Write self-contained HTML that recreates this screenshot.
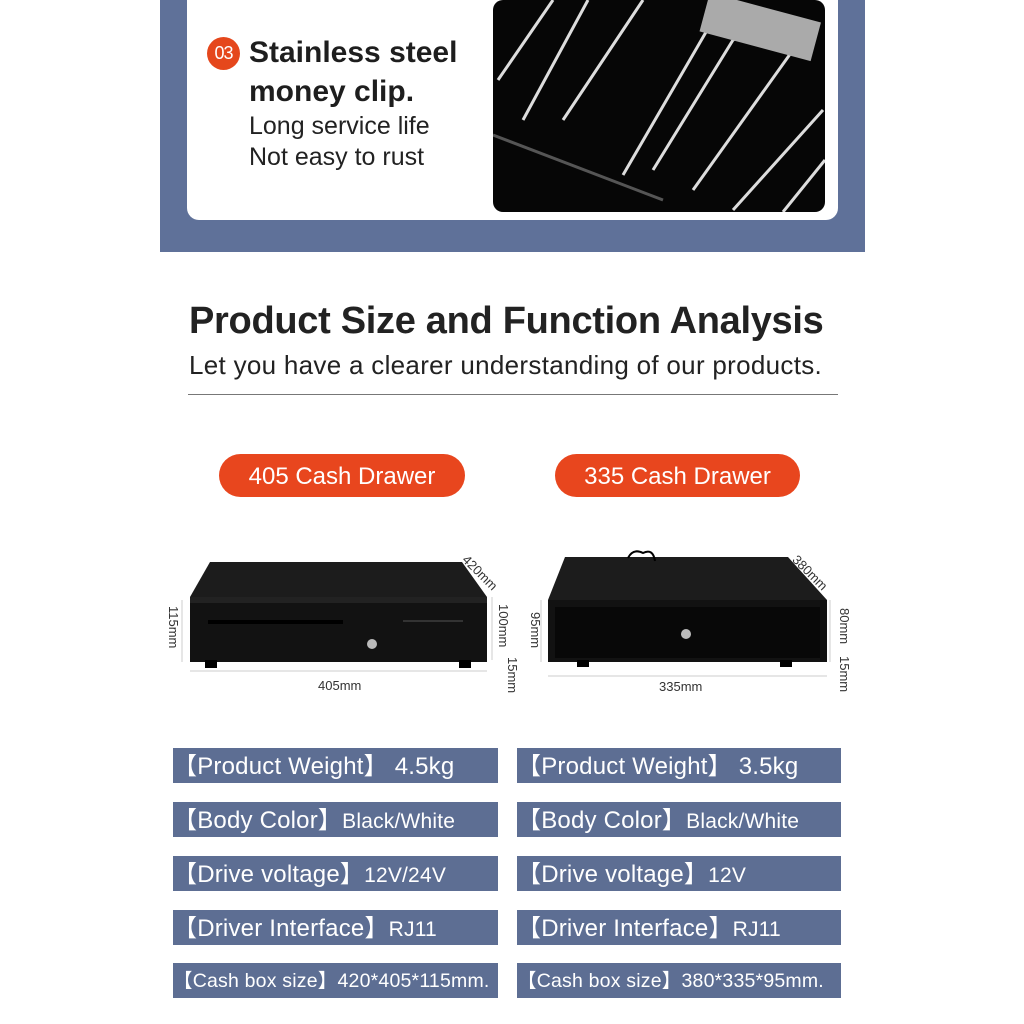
<!DOCTYPE html>
<html><head><meta charset="utf-8"><style>
*{margin:0;padding:0;box-sizing:border-box}
body{width:1024px;height:1024px;background:#fff;position:relative;overflow:hidden;font-family:"Liberation Sans",sans-serif;color:#222}
.a{position:absolute}
.lab{position:absolute;height:35px;background:#5d6e93;color:#fff;font-size:24px;line-height:37px;white-space:nowrap;overflow:hidden;letter-spacing:0.2px}
.lab small{font-size:21px}
.pill{position:absolute;height:43px;background:#e8461e;border-radius:22px;color:#fff;font-size:24px;line-height:45px;text-align:center}
.dim{position:absolute;font-size:12px;color:#333;white-space:nowrap}
</style></head><body>
<div class="a" style="left:160px;top:0;width:705px;height:252px;background:#5f7199"></div>
<div class="a" style="left:187px;top:0;width:651px;height:220px;background:#fff;border-radius:0 0 12px 12px"></div>
<div class="a" style="left:207px;top:37px;width:33px;height:33px;border-radius:50%;background:#e5471c;color:#fff;font-size:18px;line-height:33px;text-align:center;letter-spacing:-1px">03</div>
<div class="a" style="left:249px;top:33px;font-size:30px;font-weight:bold;line-height:39px;color:#1e1e1e">Stainless steel<br>money clip.</div>
<div class="a" style="left:249px;top:111px;font-size:25px;line-height:31px;color:#222">Long service life<br>Not easy to rust</div>
<svg class="a" style="left:493px;top:0" width="332" height="212" viewBox="0 0 332 212">
<rect width="332" height="212" rx="10" fill="#060606"/>
<g stroke="#ddd" stroke-width="3" fill="none">
<path d="M5 80 L60 0"/><path d="M30 120 L95 0"/><path d="M70 120 L150 0"/>
<path d="M130 175 L220 20"/><path d="M160 170 L240 40 L260 30"/><path d="M200 190 L300 50"/>
<path d="M240 210 L330 110"/><path d="M290 212 L332 160"/>
</g>
<path d="M0 135 L170 200" stroke="#555" stroke-width="3"/>
<rect x="210" y="5" width="115" height="40" fill="#aaa" transform="rotate(15 260 25)"/>
</svg>
<div class="a" style="left:189px;top:300px;font-size:38px;font-weight:bold;color:#222;letter-spacing:-0.3px">Product Size and Function Analysis</div>
<div class="a" style="left:189px;top:350px;font-size:26px;color:#222;letter-spacing:0.3px">Let you have a clearer understanding of our products.</div>
<div class="a" style="left:188px;top:394px;width:650px;height:1px;background:#777"></div>
<div class="pill" style="left:219px;top:454px;width:246px">405 Cash Drawer</div>
<div class="pill" style="left:555px;top:454px;width:245px">335 Cash Drawer</div>
<svg class="a" style="left:0;top:0" width="1024" height="720">
<polygon points="210,562 462,562 487,597 190,597" fill="#1c1c1c"/>
<rect x="190" y="597" width="297" height="65" fill="#121212"/>
<rect x="190" y="597" width="297" height="6" fill="#222"/>
<rect x="208" y="620" width="135" height="4" fill="#000"/>
<rect x="403" y="620" width="60" height="2" fill="#333"/>
<circle cx="372" cy="644" r="5" fill="#bbb"/>
<rect x="205" y="660" width="12" height="8" fill="#000"/><rect x="459" y="660" width="12" height="8" fill="#000"/>
<polygon points="565,557 788,557 827,600 548,600" fill="#1c1c1c"/>
<rect x="548" y="600" width="279" height="62" fill="#121212"/>
<rect x="555" y="607" width="265" height="51" fill="#080808"/>
<circle cx="686" cy="634" r="5" fill="#bbb"/>
<rect x="577" y="660" width="12" height="7" fill="#000"/><rect x="780" y="660" width="12" height="7" fill="#000"/>
<path d="M628 558 q5 -10 15 -5 q10 -5 12 8" stroke="#000" fill="none" stroke-width="2"/>
<g stroke="#ccc" fill="none">
<path d="M190 671 L487 671"/><path d="M548 676 L827 676"/><path d="M182 600 L182 662"/><path d="M541 600 L541 662"/>
<path d="M492 597 L492 660"/><path d="M830 600 L830 662"/>
</g>
</svg>
<div class="dim" style="left:318px;top:678px;font-size:13px">405mm</div>
<div class="dim" style="left:659px;top:679px;font-size:13px">335mm</div>
<div class="dim" style="left:470px;top:552px;transform:rotate(45deg);transform-origin:left top;font-size:13px">420mm</div>
<div class="dim" style="left:800px;top:552px;transform:rotate(45deg);transform-origin:left top;font-size:13px">380mm</div>
<div class="dim" style="left:181px;top:606px;transform:rotate(90deg);transform-origin:left top;font-size:13px">115mm</div>
<div class="dim" style="left:511px;top:604px;transform:rotate(90deg);transform-origin:left top;font-size:13px">100mm</div>
<div class="dim" style="left:520px;top:657px;transform:rotate(90deg);transform-origin:left top;font-size:13px">15mm</div>
<div class="dim" style="left:543px;top:612px;transform:rotate(90deg);transform-origin:left top;font-size:13px">95mm</div>
<div class="dim" style="left:852px;top:608px;transform:rotate(90deg);transform-origin:left top;font-size:13px">80mm</div>
<div class="dim" style="left:852px;top:656px;transform:rotate(90deg);transform-origin:left top;font-size:13px">15mm</div>
<div class="lab" style="left:173px;top:748px;width:325px">【Product Weight】 4.5kg</div>
<div class="lab" style="left:517px;top:748px;width:324px">【Product Weight】 3.5kg</div>
<div class="lab" style="left:173px;top:802px;width:325px">【Body Color】<small>Black/White</small></div>
<div class="lab" style="left:517px;top:802px;width:324px">【Body Color】<small>Black/White</small></div>
<div class="lab" style="left:173px;top:856px;width:325px">【Drive voltage】<small>12V/24V</small></div>
<div class="lab" style="left:517px;top:856px;width:324px">【Drive voltage】<small>12V</small></div>
<div class="lab" style="left:173px;top:910px;width:325px">【Driver Interface】<small>RJ11</small></div>
<div class="lab" style="left:517px;top:910px;width:324px">【Driver Interface】<small>RJ11</small></div>
<div class="lab" style="left:173px;top:963px;width:325px;font-size:19.5px">【Cash box size】420*405*115mm.</div>
<div class="lab" style="left:517px;top:963px;width:324px;font-size:19.5px">【Cash box size】380*335*95mm.</div>
</body></html>
